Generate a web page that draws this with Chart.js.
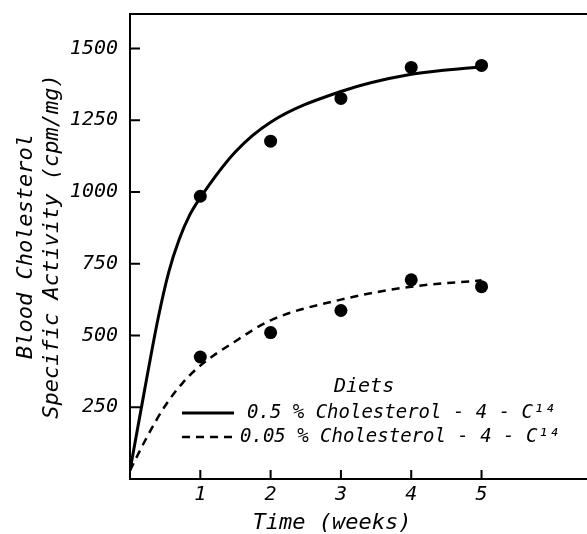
<!DOCTYPE html>
<html>
<head>
<meta charset="utf-8">
<script src="https://cdn.jsdelivr.net/npm/chart.js@4"></script>
<style>
  html, body { margin: 0; padding: 0; background: #fff; }
  #wrap { width: 587px; height: 534px; }
</style>
</head>
<body>
<div id="wrap"><canvas id="lineChart" width="587" height="534"></canvas></div>
<script>
// measured points (weeks vs specific activity)
const weeks = [1, 2, 3, 4, 5];
const highDietPoints = [985, 1177, 1326, 1434, 1441];
const lowDietPoints = [425, 510, 587, 694, 670];

// hand-drawn fitted curves
const highCurveX = [0, 0.2, 0.4, 0.55, 0.7, 0.85, 1, 1.5, 2, 3, 4, 5];
const highCurveY = [30, 300, 560, 720, 835, 920, 980, 1140, 1243, 1350, 1410, 1436];
const lowCurveX = [0, 0.25, 0.5, 0.75, 1, 1.5, 2, 3, 4, 5];
const lowCurveY = [30, 150, 255, 335, 395, 480, 553, 625, 670, 692];

const yTickValues = [250, 500, 750, 1000, 1250, 1500];
const xTickValues = [1, 2, 3, 4, 5];
const legendTitle = "Diets";
const highLabel = "0.5 % Cholesterol - 4 - C\u00B9\u2074";
const lowLabel = "0.05 % Cholesterol - 4 - C\u00B9\u2074";

const FONT = "DejaVu Sans Mono";
const toXY = (xs, ys) => xs.map((x, i) => ({ x: x, y: ys[i] }));
const noPad = s => { s.paddingTop = 0; s.paddingBottom = 0; s.paddingLeft = 0; s.paddingRight = 0; };

// inward tick marks + top frame line
const frameTicks = {
    id: "frameTicks",
    afterDraw(chart) {
        const { ctx, chartArea, scales } = chart;
        ctx.save();
        ctx.strokeStyle = "#000";
        ctx.lineWidth = 2;
        ctx.beginPath();
        ctx.moveTo(chartArea.left, chartArea.top);
        ctx.lineTo(chartArea.right, chartArea.top);
        yTickValues.forEach(v => {
            const py = scales.y.getPixelForValue(v);
            ctx.moveTo(chartArea.left, py);
            ctx.lineTo(chartArea.left + 10, py);
        });
        xTickValues.forEach(v => {
            const px = scales.x.getPixelForValue(v);
            ctx.moveTo(px, chartArea.bottom);
            ctx.lineTo(px, chartArea.bottom - 9);
        });
        ctx.stroke();
        ctx.restore();
    }
};

// legend inside plot, lower right
const dietLegend = {
    id: "dietLegend",
    afterDraw(chart) {
        const { ctx, chartArea } = chart;
        const x0 = chartArea.left + 52;
        const y0 = chartArea.bottom - 92;
        ctx.save();
        ctx.fillStyle = "#000";
        ctx.textBaseline = "middle";
        ctx.textAlign = "left";
        ctx.font = "italic 20px '" + FONT + "'";
        ctx.fillText(legendTitle, x0 + 152, y0);
        ctx.font = "italic 19px '" + FONT + "'";
        chart.data.datasets.filter(d => d.inLegend).forEach((d, i) => {
            const y = y0 + 26 + 24 * i;
            ctx.strokeStyle = "#000";
            ctx.lineWidth = d.borderWidth;
            ctx.setLineDash(d.borderDash || []);
            ctx.beginPath();
            ctx.moveTo(x0, y);
            ctx.lineTo(x0 + 52, y);
            ctx.stroke();
            ctx.setLineDash([]);
            ctx.fillText(d.label, x0 + 60 + (i === 0 ? 5 : -2), y);
        });
        ctx.restore();
    }
};

const ctx = document.getElementById("lineChart").getContext("2d");

new Chart(ctx, {
    type: "line",
    data: {
        datasets: [
            {
                label: highLabel,
                inLegend: true,
                data: toXY(highCurveX, highCurveY),
                borderColor: "#000",
                borderWidth: 3,
                pointRadius: 0,
                cubicInterpolationMode: "monotone",
                fill: false
            },
            {
                label: lowLabel,
                inLegend: true,
                data: toXY(lowCurveX, lowCurveY),
                borderColor: "#000",
                borderWidth: 2.5,
                borderDash: [8, 6],
                pointRadius: 0,
                cubicInterpolationMode: "monotone",
                fill: false
            },
            {
                label: "0.5 % points",
                data: toXY(weeks, highDietPoints),
                showLine: false,
                pointRadius: 6.5,
                pointBackgroundColor: "#000",
                pointBorderWidth: 0
            },
            {
                label: "0.05 % points",
                data: toXY(weeks, lowDietPoints),
                showLine: false,
                pointRadius: 6.5,
                pointBackgroundColor: "#000",
                pointBorderWidth: 0
            }
        ]
    },
    options: {
        responsive: false,
        animation: false,
        layout: { autoPadding: false, padding: { left: 0, top: 14, right: 0, bottom: 0 } },
        plugins: {
            legend: { display: false },
            tooltip: { enabled: false }
        },
        scales: {
            x: {
                type: "linear",
                min: 0,
                max: 6.5,
                afterBuildTicks: axis => { axis.ticks = xTickValues.map(v => ({ value: v })); },
                afterFit: s => { noPad(s); s.height = 55; },
                grid: { display: false, drawTicks: false },
                border: { display: true, color: "#000", width: 2 },
                ticks: {
                    color: "#000",
                    padding: 4,
                    maxRotation: 0,
                    font: { family: FONT, size: 20, style: "italic" }
                },
                title: {
                    display: true,
                    text: "Time (weeks)\u00A0\u00A0\u00A0\u00A0",
                    color: "#000",
                    padding: { top: 5, bottom: 0 },
                    font: { family: FONT, size: 22, style: "italic", lineHeight: 1.0 }
                }
            },
            y: {
                min: 0,
                max: 1620,
                afterBuildTicks: axis => { axis.ticks = yTickValues.map(v => ({ value: v })); },
                afterFit: s => { noPad(s); s.width = 130; },
                grid: { display: false, drawTicks: false },
                border: { display: true, color: "#000", width: 2 },
                ticks: {
                    color: "#000",
                    padding: 12,
                    callback: v => String(v),
                    font: { family: FONT, size: 20, style: "italic" }
                },
                title: {
                    display: true,
                    text: ["Blood Cholesterol", "Specific Activity (cpm/mg)"],
                    color: "#000",
                    padding: { top: 14, bottom: 5 },
                    font: { family: FONT, size: 22, style: "italic", lineHeight: 1.15 }
                }
            }
        }
    },
    plugins: [frameTicks, dietLegend]
});
</script>
</body>
</html>
